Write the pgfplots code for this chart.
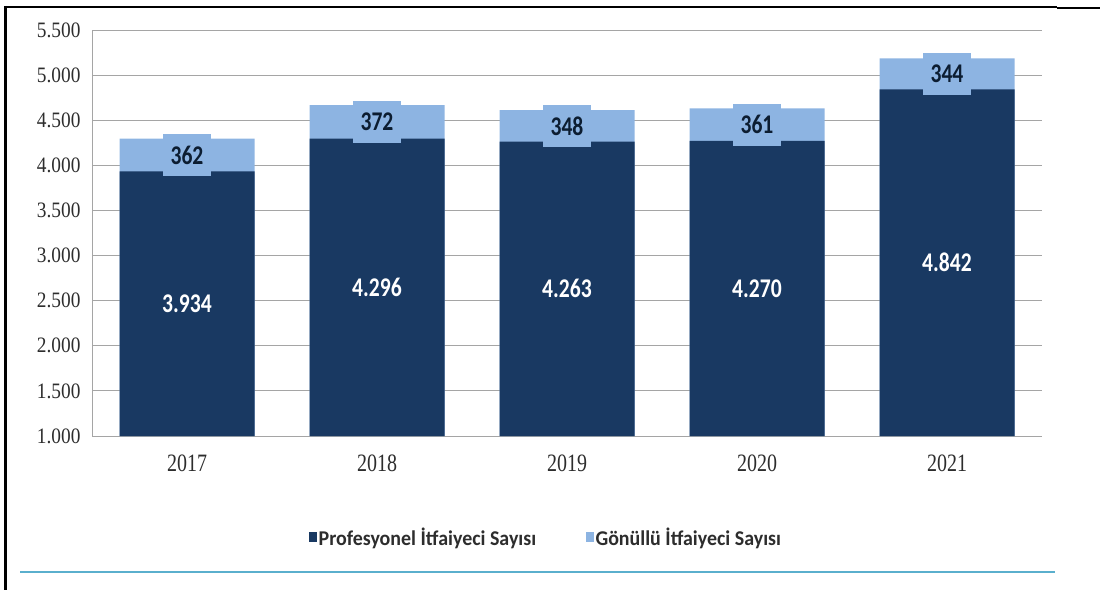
\documentclass[border=0pt]{standalone}
\usepackage{pgfplots}
\pgfplotsset{compat=1.18}
\usepackage{pgfplotstable}
\usepackage{fontspec}
\setmainfont{Liberation Serif}
\newfontfamily\tickfont{Liberation Serif}[FakeStretch=0.88]
\newfontfamily\yearfont{Liberation Serif}[FakeStretch=0.8]
\newfontfamily\barfont{Carlito}[FakeStretch=0.8]
\newfontfamily\legfont{Carlito}[FakeStretch=0.95]

\definecolor{prof}{RGB}{25,57,98}
\definecolor{gon}{RGB}{141,180,226}
\definecolor{gridgray}{RGB}{165,165,165}
\definecolor{rulecyan}{RGB}{90,175,205}
\definecolor{txt}{RGB}{45,45,45}

%% x year, professional and volunteer firefighters
\pgfplotstableread{
x year prof gon
0 2017 3934 362
1 2018 4296 372
2 2019 4263 348
3 2020 4270 361
4 2021 4842 344
}\itfaiye

\begin{document}
\begin{tikzpicture}[x=1pt,y=1pt]
\useasboundingbox (0,0) rectangle (1100,590);
%% frame lines of the page
\draw[line width=3pt] (5.5,584) -- (5.5,0);
\draw[line width=1.5pt] (4,583) -- (1057,583);
\draw[line width=2.5pt] (1057,582) -- (1100,582);
\draw[rulecyan, line width=1.5pt] (20,18) -- (1055,18);

\begin{axis}[
    at={(92pt,154pt)}, anchor=south west,
    width=950pt, height=406pt, scale only axis,
    xmin=-0.5, xmax=4.5,
    ymin=1000, ymax=5500,
    xtick={0,1,2,3,4},
    xticklabels={2017,2018,2019,2020,2021},
    ytick={1000,1500,2000,2500,3000,3500,4000,4500,5000,5500},
    scaled y ticks=false,
    axis x line*=bottom, axis y line*=left,
    x axis line style={-}, y axis line style={-},
    axis line style={draw=gridgray, line width=0.8pt},
    major tick length=0pt,
    ymajorgrids, grid style={gridgray, line width=0.8pt},
    /pgf/number format/fixed,
    /pgf/number format/1000 sep={.},
    /pgf/number format/assume math mode=true,
    yticklabel style={font=\tickfont\fontsize{22}{24}\selectfont, text=txt, xshift=-8pt},
    xticklabel style={font=\yearfont\fontsize{25}{27}\selectfont, text=txt, yshift=-15pt},
    legend style={at={(0.478,-0.249)}, anchor=center, draw=none, fill=none,
        legend columns=2, font=\legfont\bfseries\fontsize{21}{23}\selectfont, text=txt,
        /tikz/every even column/.append style={column sep=48pt}},
]
\addlegendimage{legend image code/.code={\fill[prof] (0pt,-4pt) rectangle (7pt,5pt);}}
\addlegendentry{Profesyonel İtfaiyeci Sayısı}
\addlegendimage{legend image code/.code={\fill[gon] (0pt,-4pt) rectangle (7pt,5pt);}}
\addlegendentry{Gönüllü İtfaiyeci Sayısı}

%% total height (light part shows volunteers)
\addplot[ybar, bar width=135pt, bar shift=0pt, fill=gon, draw=none, forget plot]
    table[x=x, y expr=\thisrow{prof}+\thisrow{gon}]{\itfaiye};
%% professional part
\addplot[ybar, bar width=135pt, bar shift=0pt, fill=prof, draw=none, forget plot]
    table[x=x, y=prof]{\itfaiye};

%% labels
\addplot[draw=none, forget plot, point meta=explicit, nodes near coords,
    every node near coord/.append style={anchor=center, text=white,
        font=\barfont\bfseries\fontsize{27}{29}\selectfont}]
    table[x=x, y expr=(\thisrow{prof}+1000)/2, meta=prof]{\itfaiye};
\addplot[draw=none, forget plot, point meta=explicit, nodes near coords,
    every node near coord/.append style={anchor=center, text=prof!50!black, fill=gon,
        inner sep=0pt, minimum width=48pt, minimum height=42pt,
        font=\barfont\bfseries\fontsize{27}{29}\selectfont}]
    table[x=x, y expr=\thisrow{prof}+\thisrow{gon}/2, meta=gon]{\itfaiye};
\end{axis}
\end{tikzpicture}
\end{document}
